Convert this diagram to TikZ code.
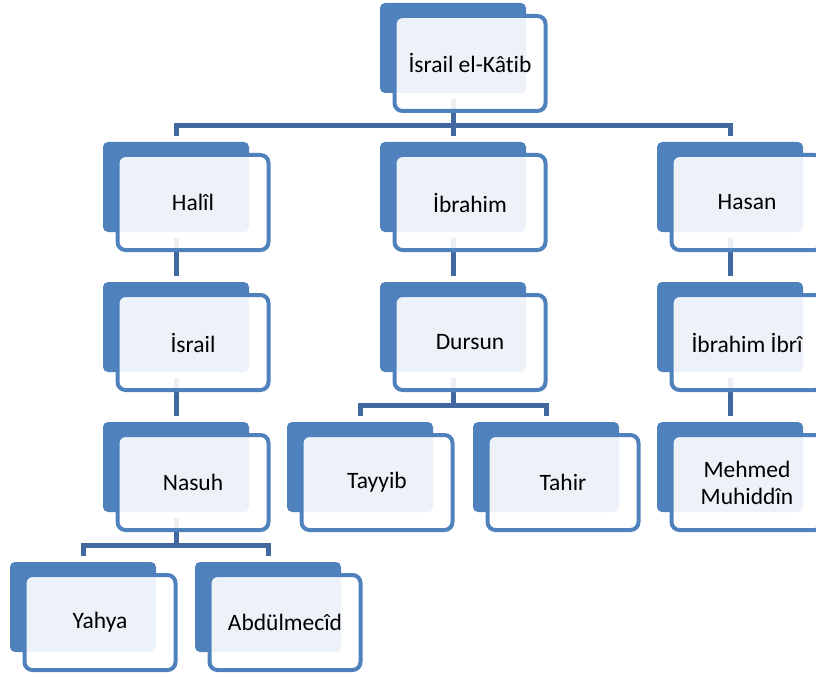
\documentclass[tikz,border=0pt]{standalone}
\usepackage{fontspec}
\setmainfont{Carlito}[Ligatures={NoCommon}]
\pgfdeclarelayer{background}
\pgfsetlayers{background,main}

\definecolor{boxblue}{RGB}{79,129,189}
\definecolor{linkblue}{RGB}{65,105,160}

\tikzset{
  back/.style={rectangle,rounded corners=5pt,fill=boxblue,
    minimum width=146pt,minimum height=90pt,inner sep=0pt,outer sep=6pt},
  front/.style={rectangle,rounded corners=8pt,draw=boxblue,line width=4pt,
    fill=white,fill opacity=0.9,text opacity=1,align=center,
    minimum width=151pt,minimum height=95pt,inner sep=0pt,
    font=\fontsize{23.5}{27}\selectfont},
  link/.style={draw=linkblue,line width=5pt}
}

% one member: back box at its top left corner, front box with the name
\newcommand\member[4]{%
  \node[back] (#1) at (#2+73,#3+45) {};
  \node[front] (#1f) at (#2+90,#3+60.5) {#4};
}

\begin{document}
\begin{tikzpicture}[x=1pt,y=-1pt]
    \useasboundingbox (0,0) rectangle (816,679);
    \member{israilk}{380}{3}{İsrail el-Kâtib}
    \member{halil}{103}{142}{Halîl}
    \member{ibrahim}{380}{142}{İbrahim}
    \member{hasan}{657}{142}{Hasan}
    \member{israil}{103}{282}{İsrail}
    \member{dursun}{380}{282}{Dursun}
    \member{ibri}{657}{282}{İbrahim İbrî}
    \member{nasuh}{103}{422}{Nasuh}
    \member{tayyib}{287}{422}{Tayyib}
    \member{tahir}{473}{422}{Tahir}
    \member{mehmed}{657}{422}{Mehmed\\Muhiddîn}
    \member{yahya}{10}{562}{Yahya}
    \member{abdulmecid}{195}{562}{Abdülmecîd}
    \begin{pgfonlayer}{background}
    \draw[link] (israilk.south) -- ++(0,27) -| (halil.north);
    \draw[link] (israilk.south) -- ++(0,27) -| (hasan.north);
    \draw[link] (israilk.south) -- (ibrahim.north);
    \draw[link] (halil.south) -- (israil.north);
    \draw[link] (israil.south) -- (nasuh.north);
    \draw[link] (ibrahim.south) -- (dursun.north);
    \draw[link] (dursun.south) -- ++(0,27) -| (tayyib.north);
    \draw[link] (dursun.south) -- ++(0,27) -| (tahir.north);
    \draw[link] (hasan.south) -- (ibri.north);
    \draw[link] (ibri.south) -- (mehmed.north);
    \draw[link] (nasuh.south) -- ++(0,27) -| (yahya.north);
    \draw[link] (nasuh.south) -- ++(0,27) -| (abdulmecid.north);
    \end{pgfonlayer}
\end{tikzpicture}
\end{document}
